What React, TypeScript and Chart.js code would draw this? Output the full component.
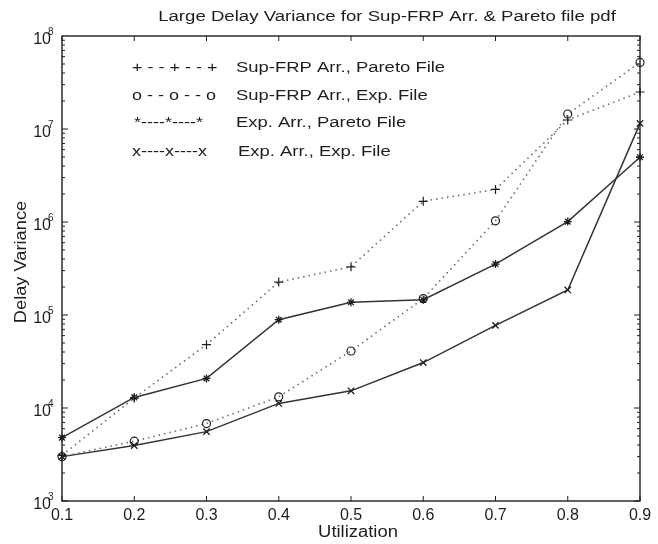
import React, { useEffect, useRef } from "react";
import { Chart, registerables } from "chart.js";

Chart.register(...registerables);

const utilization = ["0.1", "0.2", "0.3", "0.4", "0.5", "0.6", "0.7", "0.8", "0.9"];
const supFrpPareto = [3100, 12800, 48000, 226000, 330000, 1670000, 2240000, 12500000, 25000000];
const supFrpExp = [3000, 4400, 6800, 13200, 41000, 150000, 1030000, 14500000, 52000000];
const expPareto = [4800, 13000, 20800, 89000, 137000, 146000, 353000, 1010000, 4970000];
const expExp = [3000, 3950, 5570, 11200, 15300, 30800, 77300, 186000, 11500000];
const yExponents = [3, 4, 5, 6, 7, 8];

const titleText = "Large Delay Variance for Sup-FRP Arr. & Pareto file pdf";
const xTitle = "Utilization";
const yTitle = "Delay Variance";
const legendKeys = ["+ - - + - - +", "o - - o - - o", "*----*----*", "x----x----x"];
const legendLabels = [
  "Sup-FRP Arr., Pareto File",
  "Sup-FRP Arr., Exp. File",
  "Exp. Arr., Pareto File",
  "Exp. Arr., Exp. File",
];

const FONT = '"Liberation Sans", Arial, Helvetica, sans-serif';
const INK = "#1e1e1e";

function stretched(ctx: any, text: string, x: number, y: number, sx: number, rot = 0) {
  ctx.save();
  ctx.translate(x, y);
  if (rot) ctx.rotate(rot);
  ctx.scale(sx, 1);
  ctx.fillText(text, 0, 0);
  ctx.restore();
}

const framePlugin = {
  id: "frame",
  afterDraw(chart: any) {
    const { ctx, chartArea: a, scales } = chart;
    const x = scales.x;
    const y = scales.y;
    ctx.save();
    ctx.strokeStyle = INK;
    ctx.lineWidth = 1.4;
    ctx.strokeRect(a.left, a.top, a.right - a.left, a.bottom - a.top);

    // x ticks (inward, bottom & top)
    ctx.lineWidth = 1;
    utilization.forEach((_, i) => {
      const px = x.getPixelForTick(i);
      ctx.beginPath();
      ctx.moveTo(px, a.bottom);
      ctx.lineTo(px, a.bottom - 5);
      ctx.moveTo(px, a.top);
      ctx.lineTo(px, a.top + 5);
      ctx.stroke();
    });

    // y ticks (log, inward, left & right)
    for (let e = yExponents[0]; e < yExponents[yExponents.length - 1]; e++) {
      for (let m = 1; m <= 9; m++) {
        const py = y.getPixelForValue(m * Math.pow(10, e));
        const len = m === 1 ? 6 : 3;
        ctx.beginPath();
        ctx.moveTo(a.left, py);
        ctx.lineTo(a.left + len, py);
        ctx.moveTo(a.right, py);
        ctx.lineTo(a.right - len, py);
        ctx.stroke();
      }
    }

    // y tick labels with superscripts
    ctx.fillStyle = INK;
    ctx.textBaseline = "middle";
    yExponents.forEach((e) => {
      const py = y.getPixelForValue(Math.pow(10, e));
      ctx.font = `16px ${FONT}`;
      ctx.textAlign = "right";
      ctx.fillText("10", 51, py + 4);
      ctx.font = `10px ${FONT}`;
      ctx.textAlign = "left";
      ctx.fillText(String(e), 48, py - 4);
    });

    // title
    ctx.font = `15.5px ${FONT}`;
    ctx.textAlign = "center";
    stretched(ctx, titleText, 387, 17, 1.2);

    // axis titles
    ctx.font = `16px ${FONT}`;
    stretched(ctx, xTitle, 358, 533, 1.15);
    stretched(ctx, yTitle, 22, 262, 1.14, -Math.PI / 2);

    // legend
    const rows = [68, 96, 123, 152];
    rows.forEach((ry, i) => {
      ctx.textAlign = "left";
      ctx.font = `15px ${FONT}`;
      stretched(ctx, legendKeys[i], i === 2 ? 134 : 132, ry, 1.2);
      ctx.font = `15.5px ${FONT}`;
      stretched(ctx, legendLabels[i], i === 3 ? 238 : 236, ry, 1.19);
    });
    ctx.restore();
  },
};

export default function App() {
  const ref = useRef<HTMLCanvasElement | null>(null);
  useEffect(() => {
    if (!ref.current) return;
    const dotted = {
      borderColor: "#6a6a6a",
      borderWidth: 1.6,
      borderDash: [1.5, 4],
      pointBorderColor: INK,
      pointBackgroundColor: "rgba(0,0,0,0)",
      pointBorderWidth: 1.2,
      clip: false,
      tension: 0,
    };
    const solid = {
      borderColor: "#333",
      borderWidth: 1.5,
      pointBorderColor: INK,
      pointBackgroundColor: "rgba(0,0,0,0)",
      pointBorderWidth: 1.3,
      clip: false,
      tension: 0,
    };
    const chart = new Chart(ref.current, {
      type: "line",
      data: {
        labels: utilization,
        datasets: [
          { label: legendLabels[0], data: supFrpPareto, pointStyle: "cross", pointRadius: 4.5, ...dotted },
          { label: legendLabels[1], data: supFrpExp, pointStyle: "circle", pointRadius: 4, ...dotted },
          { label: legendLabels[2], data: expPareto, pointStyle: "star", pointRadius: 4, ...solid },
          { label: legendLabels[3], data: expExp, pointStyle: "crossRot", pointRadius: 4.5, ...solid },
        ],
      } as any,
      options: {
        animation: false,
        responsive: false,
        maintainAspectRatio: false,
        layout: { padding: { top: 36, right: 18, left: 0, bottom: 0 } },
        plugins: { legend: { display: false }, title: { display: false }, tooltip: { enabled: false } },
        scales: {
          x: {
            type: "category",
            offset: false,
            grid: { display: false, drawTicks: false },
            border: { display: false },
            ticks: { font: { size: 16, family: FONT }, color: INK, padding: 5, maxRotation: 0 },
            afterFit: (s: any) => {
              s.height = 43;
            },
          },
          y: {
            type: "logarithmic",
            min: 1000,
            max: 100000000,
            grid: { display: false, drawTicks: false },
            border: { display: false },
            ticks: { display: false },
            afterFit: (s: any) => {
              s.width = 62;
            },
          },
        },
      } as any,
      plugins: [framePlugin],
    });
    return () => chart.destroy();
  }, []);
  return (
    <div style={{ position: "fixed", left: 0, top: 0, width: 658, height: 544, background: "#fff" }}>
      <canvas ref={ref} width={658} height={544} style={{ width: 658, height: 544 }} />
    </div>
  );
}
